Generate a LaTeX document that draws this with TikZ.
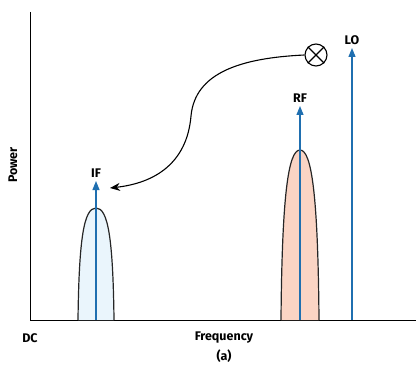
\documentclass[tikz,border=0pt]{standalone}
\usepackage{fontspec}
\setmainfont{Fira Sans}
\usetikzlibrary{arrows.meta}
\definecolor{adiblue}{HTML}{1F6FB0}
\definecolor{iffill}{HTML}{EAF5FC}
\definecolor{rffill}{HTML}{FAD4C4}
\begin{document}
\begin{tikzpicture}[x=1pt,y=1pt,
		lbl/.style={font=\fontsize{12.5}{14}\selectfont\bfseries, inner sep=1pt},
		tone/.style={draw=adiblue, line width=1.2pt, -{Triangle[length=9pt,width=7pt]}},
		lobe/.style={draw=black!85, line width=1.2pt}]
	\useasboundingbox (0,0) rectangle (420,378);
	% axes
	\coordinate (org) at (30,58);
	\draw[line width=1pt] (30,366) -- (org) -- (416,58);
	% spectral lobes
	\filldraw[lobe, fill=iffill] (78,58) .. controls (79,140) and (84,170) .. (96,170) .. controls (108,170) and (113,140) .. (114,58);
	\filldraw[lobe, fill=rffill] (281,58) .. controls (282,180) and (288,228) .. (300,228) .. controls (312,228) and (318,180) .. (319,58);
	% tones
	\foreach \nm/\x/\tip in {if/96/197, rf/300/272, lo/352/330} {
			\coordinate (\nm b) at (\x,58);
			\coordinate (\nm t) at (\x,\tip);
			\draw[tone] (\nm b) -- (\nm t);
		}
	\node[lbl, above=2pt] (iflbl) at (ift) {IF};
	\node[lbl, above=2pt] (rflbl) at (rft) {RF};
	\node[lbl, above=2pt] (lolbl) at (lot) {LO};
	% mixer
	\node[draw, circle, line width=1.1pt, minimum size=22pt, inner sep=0pt] (mix) at (316,323) {};
	\draw[line width=1.1pt] (mix.north west) -- (mix.south east);
	\draw[line width=1.1pt] (mix.north east) -- (mix.south west);
	\coordinate (ifin) at (110,190);
	\draw[line width=1.1pt, -{Stealth[length=10pt,width=8pt]}] (mix.west) .. controls (240,320) and (195,305) .. (191,262) .. controls (187,215) and (155,195) .. (ifin);
	% axis labels
	\node[lbl, rotate=90] (pwr) at (13,213) {Power};
	\node[lbl] (dc) at (30,40) {DC};
	\node[lbl] (freq) at (224,40) {Frequency};
	\node[lbl] (sub) at (224,22) {(a)};
\end{tikzpicture}
\end{document}
